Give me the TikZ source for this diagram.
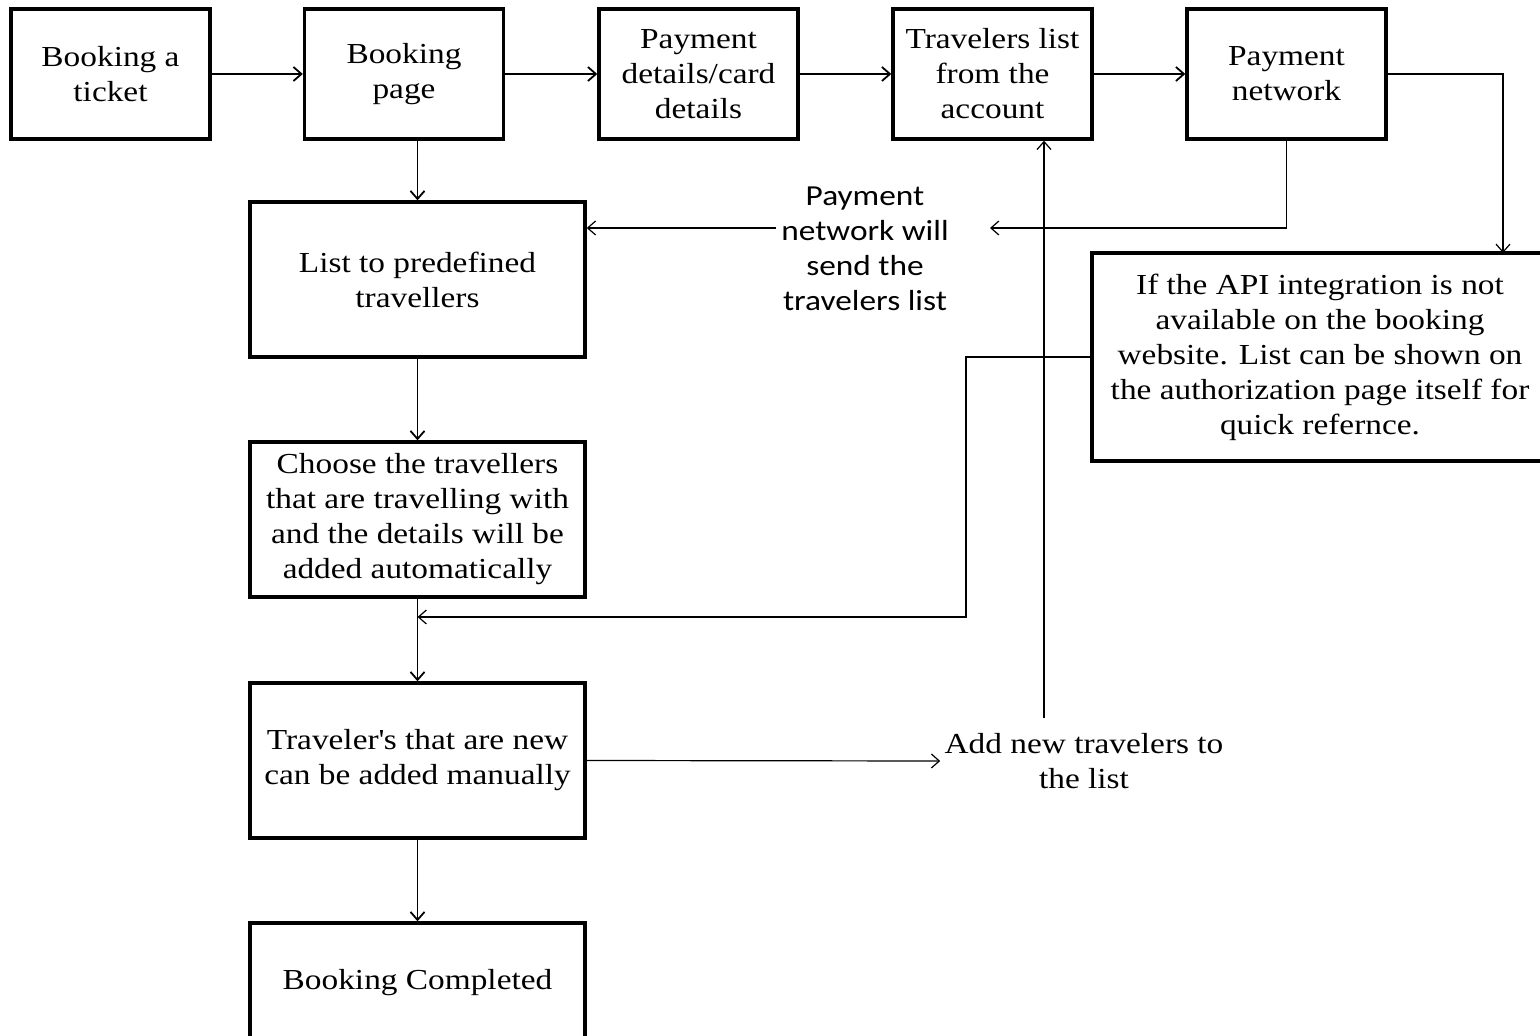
\documentclass[tikz,border=0pt]{standalone}
\usepackage{fontspec}
\setmainfont{Liberation Serif}[FakeStretch=1.15]
\newfontfamily\calibrifont{Carlito}[FakeStretch=1.15]
\usetikzlibrary{arrows.meta}
\tikzset{
  >={Straight Barb[length=4pt,width=7pt]},
  txt/.style={align=center, font=\fontsize{14.5}{17.5}\selectfont},
  box/.style={txt, draw, line width=1.7pt},
  topbox/.style={box, minimum width=99.5pt, minimum height=65pt},
  bigbox/.style={box, minimum width=167.5pt, minimum height=77.5pt},
  flow/.style={->, line width=0.9pt},
  link/.style={->, line width=0.6pt},
}
\begin{document}
\begin{tikzpicture}[x=0.5pt, y=-0.5pt]
    \useasboundingbox (0,0) rectangle (1540,1036);
    % top row
    \node[topbox] (book) at (110.5,74) {Booking a\\ticket};
    \node[topbox] (page) at (404,74) {Booking\\page};
    \node[topbox] (card) at (698.5,74) {Payment\\details/card\\details};
    \node[topbox] (trav) at (992.5,74) {Travelers list\\from the\\account};
    \node[topbox] (net) at (1286.5,74) {Payment\\network};
    % left column
    \node[bigbox] (list) at (417.5,279.5) {List to predefined\\travellers};
    \node[bigbox] (choose) at (417.5,519.5) {Choose the travellers\\that are travelling with\\and the details will be\\added automatically};
    \node[bigbox] (newt) at (417.5,760.5) {Traveler\textquotesingle s that are new\\can be added manually};
    \node[bigbox, minimum height=60pt] (done) at (417.5,983) {Booking Completed};
    % right side
    \node[box, minimum width=228pt, minimum height=104pt] (api) at (1320,357) {If the API integration is not\\available on the booking\\website. List can be shown on\\the authorization page itself for\\quick refernce.};
    \node[txt, font=\calibrifont\fontsize{14.5}{17.5}\selectfont] (send) at (865,249) {Payment\\network will\\send the\\travelers list};
    \node[txt, inner sep=2pt] (add) at (1084,761) {Add new travelers to\\the list};
    \coordinate (sendin) at (990,228);
    \coordinate (sendout) at (776,228);
    \coordinate (apitop) at (1503,253);
    \coordinate (apibend) at (966,357);
    \coordinate (merge) at (417.5,617);
    \coordinate (addup) at (1044,718);

    \draw[flow] (book) -- (page);
    \draw[flow] (page) -- (card);
    \draw[flow] (card) -- (trav);
    \draw[flow] (trav) -- (net);
    \draw[flow] (page.south -| list.north) -- (list.north);
    \draw[flow] (list) -- (choose);
    \draw[flow] (choose) -- (newt);
    \draw[flow] (newt) -- (done);
    \draw[link] (net.east) -| (apitop);
    \draw[link] (net.south) |- (sendin);
    \draw[link] (sendout) -- (sendout -| list.east);
    \draw[link] (api.west) -- (apibend) |- (merge);
    \draw[link] (newt.east) -- (add.west);
    \draw[link] (addup) -- (addup |- trav.south);
\end{tikzpicture}
\end{document}
